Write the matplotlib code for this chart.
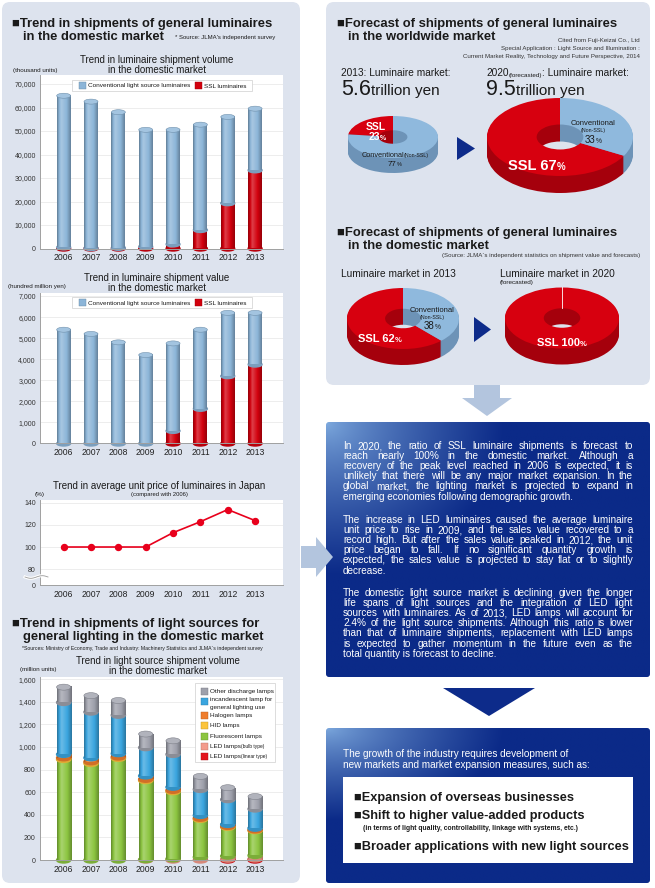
import matplotlib

matplotlib.use("Agg")
import numpy as np
import matplotlib.pyplot as plt
from matplotlib import font_manager
from matplotlib.colors import to_rgb
from matplotlib.font_manager import FontProperties
from matplotlib.patches import Ellipse, FancyBboxPatch, Polygon, Rectangle, Wedge
from matplotlib.transforms import Affine2D

# ---- data ----
YEARS = ["2006", "2007", "2008", "2009", "2010", "2011", "2012", "2013"]

# luminaire shipment volume (thousand units)
vol_ssl = [500, 200, 300, 800, 1800, 7900, 19300, 33300]
vol_conventional = [64500, 62300, 57700, 49700, 48700, 44800, 36700, 26200]
# luminaire shipment value (hundred million yen)
val_ssl = [0, 0, 0, 0, 600, 1650, 3200, 3750]
val_conventional = [5400, 5200, 4800, 4200, 4150, 3750, 3000, 2450]
# average unit price index (2006 = 100)
price_index = [100, 100, 100, 100, 113, 123, 134, 124]
# light source shipments (million units), bottom -> top of the stack
lamp_led_linear = [0, 0, 0, 0, 0, 0, 8, 10]
lamp_led_bulb = [0, 0, 0, 3, 10, 25, 27, 30]
lamp_fluorescent = [890, 855, 900, 700, 595, 335, 255, 220]
lamp_hid = [15, 15, 12, 12, 12, 10, 8, 7]
lamp_halogen = [30, 35, 30, 30, 28, 25, 17, 15]
lamp_incandescent = [460, 405, 340, 250, 290, 230, 220, 170]
lamp_other = [135, 145, 130, 120, 120, 115, 105, 110]
# donut shares: [SSL, conventional] in %
world_2013 = [23, 77]
world_2020 = [67, 33]
domestic_2013 = [62, 38]
domestic_2020 = [100, 0]

PARA_1 = [
    "In 2020, the ratio of SSL luminaire shipments is forecast to",
    "reach nearly 100% in the domestic market. Although a",
    "recovery of the peak level reached in 2006 is expected, it is",
    "unlikely that there will be any major market expansion. In the",
    "global market, the lighting market is projected to expand in",
    "emerging economies following demographic growth.",
]
PARA_2 = [
    "The increase in LED luminaires caused the average luminaire",
    "unit price to rise in 2009, and the sales value recovered to a",
    "record high. But after the sales value peaked in 2012, the unit",
    "price began to fall. If no significant quantity growth is",
    "expected, the sales value is projected to stay flat or to slightly",
    "decrease.",
]
PARA_3 = [
    "The domestic light source market is declining given the longer",
    "life spans of light sources and the integration of LED light",
    "sources with luminaires. As of 2013, LED lamps will account for",
    "2.4% of the light source shipments. Although this ratio is lower",
    "than that of luminaire shipments, replacement with LED lamps",
    "is expected to gather momentum in the future even as the",
    "total quantity is forecast to decline.",
]

W, H = 655, 888
_installed = {f.name for f in font_manager.fontManager.ttflist}
SANS = ["Liberation Sans", "DejaVu Sans"]
NARROW = (["Liberation Sans Narrow"] if "Liberation Sans Narrow" in _installed else []) + SANS
BODY = ["Liberation Sans", "DejaVu Sans"]
plt.rcParams["font.family"] = SANS

BLUE = "#8cb5d8"
RED = "#d2000d"
PANEL = "#dde3ee"
INK = "#1a1a1a"
NAVY = "#0d2b8a"

fig = plt.figure(figsize=(W / 100, H / 100), dpi=100)
renderer = fig.canvas.get_renderer()
bg = fig.add_axes([0, 0, 1, 1])
bg.axis("off")


def px_axes(x0, y0, x1, y1):
    return fig.add_axes([x0 / W, 1 - y1 / H, (x1 - x0) / W, (y1 - y0) / H])


def text_w(s, size, weight="normal", family=None):
    fp = FontProperties(family=family or SANS, size=size, weight=weight)
    return renderer.get_text_width_height_descent(s, fp, ismath=False)[0]


def rich(ax, x, y, parts, ha="left", color=INK, family=None):
    """Draw text pieces of mixed size on one baseline (pixel coords)."""
    fam = family or SANS
    items = []
    for p in parts:
        s, size = p[0], p[1]
        weight = p[2] if len(p) > 2 else "normal"
        gap = p[3] if len(p) > 3 else 0
        items.append((s, size, weight, text_w(s, size, weight, fam), gap))
    total = sum(it[3] + it[4] for it in items) - items[-1][4]
    cx = x - total / 2 if ha == "center" else x
    for s, size, weight, w, gap in items:
        ax.text(cx, y, s, fontsize=size, weight=weight, family=fam, color=color,
                ha="left", va="baseline", transform=bg.transData, zorder=8)
        cx += w + gap


def label(x, y, s, size, weight="normal", ha="left", color=INK, family=None):
    bg.text(x, y, s, fontsize=size, weight=weight, ha=ha, va="center_baseline",
            color=color, family=family or SANS, zorder=8)


def rounded(x0, y0, x1, y1, r, **kw):
    return FancyBboxPatch((x0 + r, y0 + r), x1 - x0 - 2 * r, y1 - y0 - 2 * r,
                          boxstyle=f"round,pad={r}", **kw)


def gradient_box(x0, y0, x1, y1):
    u = np.linspace(0, 1, 120)[None, :]
    v = np.linspace(0, 1, 80)[:, None]
    d = np.clip(np.sqrt((u / 0.55) ** 2 + (v / 0.6) ** 2), 0, 1) ** 0.75
    light, dark = np.array(to_rgb("#7eaade")), np.array(to_rgb("#0b2a88"))
    img = light * (1 - d)[..., None] + dark * d[..., None]
    im = bg.imshow(img, extent=(x0, x1, y1, y0), aspect="auto",
                   interpolation="bilinear", zorder=1)
    clip = rounded(x0, y0, x1, y1, 3, fc="none", ec="none")
    bg.add_patch(clip)
    im.set_clip_path(clip)


def shade(c, f):
    c = np.array(to_rgb(c))
    return np.clip(c * f if f < 1 else c + (1 - c) * (f - 1), 0, 1)


def cylinder(ax, x, bottom, top, color, w, eh, z, cap):
    u = np.linspace(0, 1, 40)
    prof = np.interp(u, [0, 0.3, 0.7, 1], [0.7, 1.25, 1.0, 0.72])
    img = np.array([shade(color, f) for f in prof])[None, :, :]
    ax.add_patch(Ellipse((x, bottom), w, eh, color=shade(color, 0.88), zorder=z, clip_on=False))
    ax.imshow(img, extent=(x - w / 2, x + w / 2, bottom, top), aspect="auto",
              interpolation="bilinear", zorder=z + 0.001)
    if cap:
        ax.add_patch(Ellipse((x, top), w, eh, facecolor=shade(color, 1.2),
                             edgecolor=shade(color, 0.8), lw=0.4, zorder=z + 0.002,
                             clip_on=False))


def stacked_cylinders(ax, series, colors, ytop, h_px, eh_px=5, w=0.51):
    eh = eh_px * ytop / h_px
    for i in range(len(YEARS)):
        nz = [k for k, s in enumerate(series) if s[i] > 0]
        b = 0
        for k, s in enumerate(series):
            if s[i] <= 0:
                continue
            cylinder(ax, i, b, b + s[i], colors[k], w, eh, 2 + 0.01 * k, k == nz[-1])
            b += s[i]


def setup_chart(ax, ylim, yticks, ylabels):
    ax.set_xlim(-0.865, 8.02)
    ax.set_ylim(*ylim)
    ax.set_yticks(yticks)
    ax.set_yticklabels(ylabels, fontsize=5, color="#333333")
    ax.set_xticks(range(len(YEARS)))
    ax.set_xticklabels(YEARS, fontsize=6.2, color="#222222")
    ax.tick_params(axis="y", length=0, pad=3)
    ax.tick_params(axis="x", length=0, pad=3.5)
    for s in ["top", "right"]:
        ax.spines[s].set_visible(False)
    for s in ["left", "bottom"]:
        ax.spines[s].set_color("#a0a0a0")
        ax.spines[s].set_linewidth(0.7)
    ax.grid(axis="y", color="#e6e6e6", lw=0.5)
    ax.set_axisbelow(True)


def legend_box(ax, x0, y0, x1, y1):
    ax.add_patch(Rectangle((x0, y0), x1 - x0, y1 - y0, transform=bg.transData,
                           fc="white", ec="#cfcfcf", lw=0.5, zorder=7))


def swatch(ax, x, y, color, s=7):
    ax.add_patch(Rectangle((x, y - s / 2), s, s, transform=bg.transData,
                           fc=color, ec=shade(color, 0.75), lw=0.3, zorder=8))


def donut(cx, cy, rx, ry, depth, shares, tops, sides, hole=0.32):
    for off in range(int(depth), -1, -1):
        t = Affine2D().scale(1, -ry / rx).translate(cx, cy + off) + bg.transData
        a = 90.0
        for s, ct, cs in zip(shares, tops, sides):
            if s <= 0:
                continue
            a2 = a + 3.6 * s
            bg.add_patch(Wedge((0, 0), rx, a, a2, width=rx * (1 - hole), transform=t,
                               fc=ct if off == 0 else cs, ec="none", zorder=2))
            a = a2


# ---- panels and connectors ----
bg.add_patch(rounded(2, 2, 300, 883, 8, fc=PANEL, ec="none", zorder=0.5))
bg.add_patch(rounded(326, 2, 650, 385, 8, fc=PANEL, ec="none", zorder=0.5))
gradient_box(326, 422, 650, 677)
gradient_box(326, 728, 650, 883)
bg.add_patch(Polygon([(474, 385), (500, 385), (500, 398), (512, 398), (487, 416),
                      (462, 398), (474, 398)], fc="#b3c5de", ec="none", zorder=1))
bg.add_patch(Polygon([(301, 546), (316, 546), (316, 537), (333, 557), (316, 577),
                      (316, 568), (301, 568)], fc="#b3c5de", ec="none", zorder=1))
bg.add_patch(Polygon([(443, 688), (535, 688), (489, 716)], fc=NAVY, ec="none", zorder=1))

TITLE = 9.4

# ---- left panel: luminaire volume ----
label(12, 23, "■Trend in shipments of general luminaires", TITLE, "bold")
label(23, 36, "in the domestic market", TITLE, "bold")
label(175, 37, "* Source: JLMA's independent survey", 4.3, family=NARROW)
label(157, 59, "Trend in luminaire shipment volume", 7, ha="center")
label(157, 69, "in the domestic market", 7, ha="center")
label(13, 70, "(thousand units)", 4.5, family=NARROW)

ax1 = px_axes(40, 75, 283, 248.5)
stacked_cylinders(ax1, [vol_ssl, vol_conventional], [RED, BLUE], 73830, 173.5)
setup_chart(ax1, (0, 73830), range(0, 70001, 10000),
            [f"{v:,}" for v in range(0, 70001, 10000)])
legend_box(ax1, 72, 80, 252, 91)
swatch(ax1, 79, 85.5, BLUE)
swatch(ax1, 195, 85.5, RED)
rich(ax1, 88, 87.5, [("Conventional light source luminaires", 4.6)], family=NARROW)
rich(ax1, 204, 87.5, [("SSL luminaires", 4.6)], family=NARROW)

# ---- left panel: luminaire value ----
label(157, 277, "Trend in luminaire shipment value", 7, ha="center")
label(157, 287, "in the domestic market", 7, ha="center")
label(8, 286, "(hundred million yen)", 4.5, family=NARROW)

ax2 = px_axes(40, 293, 283, 443.5)
stacked_cylinders(ax2, [val_ssl, val_conventional], [RED, BLUE], 7142, 150.5)
setup_chart(ax2, (0, 7142), range(0, 7001, 1000),
            [f"{v:,}" for v in range(0, 7001, 1000)])
legend_box(ax2, 72, 297, 252, 308)
swatch(ax2, 79, 302.5, BLUE)
swatch(ax2, 195, 302.5, RED)
rich(ax2, 88, 304.5, [("Conventional light source luminaires", 4.6)], family=NARROW)
rich(ax2, 204, 304.5, [("SSL luminaires", 4.6)], family=NARROW)

# ---- left panel: unit price ----
label(159, 485, "Trend in average unit price of luminaires in Japan", 7, ha="center")
label(159, 494, "(compared with 2006)", 4.2, ha="center", family=NARROW)
label(35, 494, "(%)", 4.6)

ax3 = px_axes(40, 500, 283, 585)
ax3.plot(range(len(YEARS)), price_index, color="#e8001c", lw=1.2, marker="o", ms=4.3, zorder=3)
setup_chart(ax3, (65.5, 142.7), [65.5, 80, 100, 120, 140], ["0", "80", "100", "120", "140"])
sx = np.linspace(25, 48, 40)
ax3.plot(sx, 577 + 1.3 * np.sin((sx - 25) / 23 * 2 * np.pi), transform=bg.transData,
         color="white", lw=2.2, clip_on=False, zorder=5)
ax3.plot(sx, 577 + 1.3 * np.sin((sx - 25) / 23 * 2 * np.pi), transform=bg.transData,
         color="#9a9a9a", lw=0.6, clip_on=False, zorder=6)

# ---- left panel: light sources ----
label(12, 622, "■Trend in shipments of light sources for", TITLE, "bold")
label(23, 635, "general lighting in the domestic market", TITLE, "bold")
label(22, 648, "*Sources: Ministry of Economy, Trade and Industry: Machinery Statistics "
      "and JLMA`s independent survey", 3.7, family=NARROW)
label(158, 660, "Trend in light source shipment volume", 7, ha="center")
label(158, 670, "in the domestic market", 7, ha="center")
label(20, 669, "(million units)", 4.5, family=NARROW)

LAMP_COLORS = ["#e3141c", "#f39b8b", "#8cc540", "#fcc43c", "#ef7d2c", "#3aa5df", "#9ea0ab"]
ax4 = px_axes(40, 677, 283, 860)
stacked_cylinders(ax4, [lamp_led_linear, lamp_led_bulb, lamp_fluorescent, lamp_hid,
                        lamp_halogen, lamp_incandescent, lamp_other],
                  LAMP_COLORS, 1620, 183, eh_px=6, w=0.52)
setup_chart(ax4, (0, 1620), range(0, 1601, 200), [f"{v:,}" for v in range(0, 1601, 200)])
legend_box(ax4, 195, 683, 275, 762)
leg_rows = [
    (691, 6, [("Other discharge lamps", 4.6)]),
    (701, 5, [("incandescent lamp for", 4.6)]),
    (715, 4, [("Halogen lamps", 4.6)]),
    (725, 3, [("HID lamps", 4.6)]),
    (736, 2, [("Fluorescent lamps", 4.6)]),
    (746, 1, [("LED lamps", 4.6), ("(bulb type)", 3.5)]),
    (756, 0, [("LED lamps", 4.6), ("(linear type)", 3.5)]),
]
for y, k, parts in leg_rows:
    swatch(ax4, 201, y, LAMP_COLORS[k])
    rich(ax4, 210, y + 2 if k != 5 else y, parts, family=NARROW)
rich(ax4, 210, 708.5, [("general lighting use", 4.6)], family=NARROW)

# ---- right panel: worldwide ----
label(337, 23, "■Forecast of shipments of general luminaires", TITLE, "bold")
label(348, 36, "in the worldwide market", TITLE, "bold")
label(640, 40, "Cited from Fuji-Keizai Co., Ltd", 4.4, ha="right", color="#333333", family=NARROW)
label(640, 48, "Special Application : Light Source and Illumination :", 4.4, ha="right",
      color="#333333", family=NARROW)
label(640, 56, "Current Market Reality, Technology and Future Perspective, 2014", 4.4,
      ha="right", color="#333333", family=NARROW)
rich(bg, 341, 76.5, [("2013: Luminaire market:", 7.3)])
rich(bg, 341, 95, [("5.6", 15.5), ("trillion yen", 11)])
rich(bg, 486, 76.5, [("2020", 7.3), ("(forecasted)", 4.5), (": Luminaire market:", 7.3)])
rich(bg, 486, 95, [("9.5", 15.5), ("trillion yen", 11)])

PIE_TOPS = ["#d7000f", "#8fb9dd"]
PIE_SIDES = ["#a5000c", "#6d93b7"]
donut(393, 137, 45, 21, 15, world_2013, PIE_TOPS, PIE_SIDES)
donut(560, 137, 73, 39, 17, world_2020, PIE_TOPS, PIE_SIDES)
bg.add_patch(Polygon([(457, 137), (475, 148.5), (457, 160)], fc=NAVY, ec="none", zorder=2))

rich(bg, 376, 130, [("SSL", 7.5, "bold")], ha="center", color="white", family=NARROW)
rich(bg, 377, 140, [(f"{world_2013[0]}", 7.5, "bold"), ("%", 5, "bold")], ha="center",
     color="white", family=NARROW)
rich(bg, 395, 157, [("Conventional", 5.3), ("(Non-SSL)", 3.8)], ha="center", family=NARROW)
rich(bg, 395, 166, [(f"{world_2013[1]}", 5.8), ("%", 4)], ha="center", family=NARROW)
rich(bg, 593, 125, [("Conventional", 5.5)], ha="center", family=NARROW)
rich(bg, 593, 132, [("(Non-SSL)", 3.8)], ha="center", family=NARROW)
rich(bg, 593, 143, [(f"{world_2020[1]}", 7), ("%", 4.8)], ha="center", family=NARROW)
rich(bg, 537, 170, [(f"SSL {world_2020[0]}", 10.5, "bold"), ("%", 7, "bold")], ha="center",
     color="white", family=NARROW)

# ---- right panel: domestic ----
label(337, 231, "■Forecast of shipments of general luminaires", TITLE, "bold")
label(348, 244, "in the domestic market", TITLE, "bold")
label(640, 255, "(Source: JLMA`s independent statistics on shipment value and forecasts)",
      4.4, ha="right", color="#333333", family=NARROW)
label(341, 273, "Luminaire market in 2013", 7.3)
label(500, 273, "Luminaire market in 2020", 7.3)
label(500, 282, "(forecasted)", 4.6)

donut(403, 318.5, 56, 30.5, 16, domestic_2013, PIE_TOPS, PIE_SIDES)
donut(562, 318, 57, 30.5, 16, domestic_2020, PIE_TOPS, PIE_SIDES)
bg.plot([562, 562], [318 - 30.5, 318 - 30.5 * 0.32], color="white", lw=0.6, zorder=3)
bg.add_patch(Polygon([(474, 317), (491, 329.5), (474, 342)], fc=NAVY, ec="none", zorder=2))

rich(bg, 432, 312, [("Conventional", 5.5)], ha="center", family=NARROW)
rich(bg, 432, 318.5, [("(Non-SSL)", 3.8)], ha="center", family=NARROW)
rich(bg, 432, 329, [(f"{domestic_2013[1]}", 7), ("%", 4.8)], ha="center", family=NARROW)
rich(bg, 380, 342, [(f"SSL {domestic_2013[0]}", 8, "bold"), ("%", 5.5, "bold")], ha="center",
     color="white", family=NARROW)
rich(bg, 562, 346, [(f"SSL {domestic_2020[0]}", 8, "bold"), ("%", 5.5, "bold")], ha="center",
     color="white", family=NARROW)

# ---- summary text boxes ----
X0, X1 = 343, 633
size = 7.6
while max(text_w(l, size, family=BODY) for l in PARA_1 + PARA_2 + PARA_3) > X1 - X0 - 8:
    size -= 0.05


def justified(lines, y, dy=10.1):
    for i, line in enumerate(lines):
        yy = y + i * dy
        words = line.split()
        if i == len(lines) - 1:
            bg.text(X0, yy, line, fontsize=size, family=BODY, color="white",
                    va="center_baseline", zorder=8)
            continue
        widths = [text_w(w, size, family=BODY) for w in words]
        gap = (X1 - X0 - sum(widths)) / (len(words) - 1)
        x = X0
        for w, wd in zip(words, widths):
            bg.text(x, yy, w, fontsize=size, family=BODY, color="white",
                    va="center_baseline", zorder=8)
            x += wd + gap


justified(PARA_1, 445)
justified(PARA_2, 519)
justified(PARA_3, 592)

bg.text(X0, 753, "The growth of the industry requires development of", fontsize=size,
        family=BODY, color="white", va="center_baseline", zorder=8)
bg.text(X0, 764, "new markets and market expansion measures, such as:", fontsize=size,
        family=BODY, color="white", va="center_baseline", zorder=8)
bg.add_patch(Rectangle((343, 777), 290, 86, fc="white", ec="none", zorder=3))
BULLET = 9.2
label(354, 796, "■Expansion of overseas businesses", BULLET, "bold")
label(354, 814, "■Shift to higher value-added products", BULLET, "bold")
label(363, 827.5, "(in terms of light quality, controllability, linkage with systems, etc.)",
      4.9, "bold", family=NARROW)
label(354, 845, "■Broader applications with new light sources", BULLET, "bold")

bg.set_xlim(0, W)
bg.set_ylim(H, 0)
fig.savefig("out.png", dpi=100)
